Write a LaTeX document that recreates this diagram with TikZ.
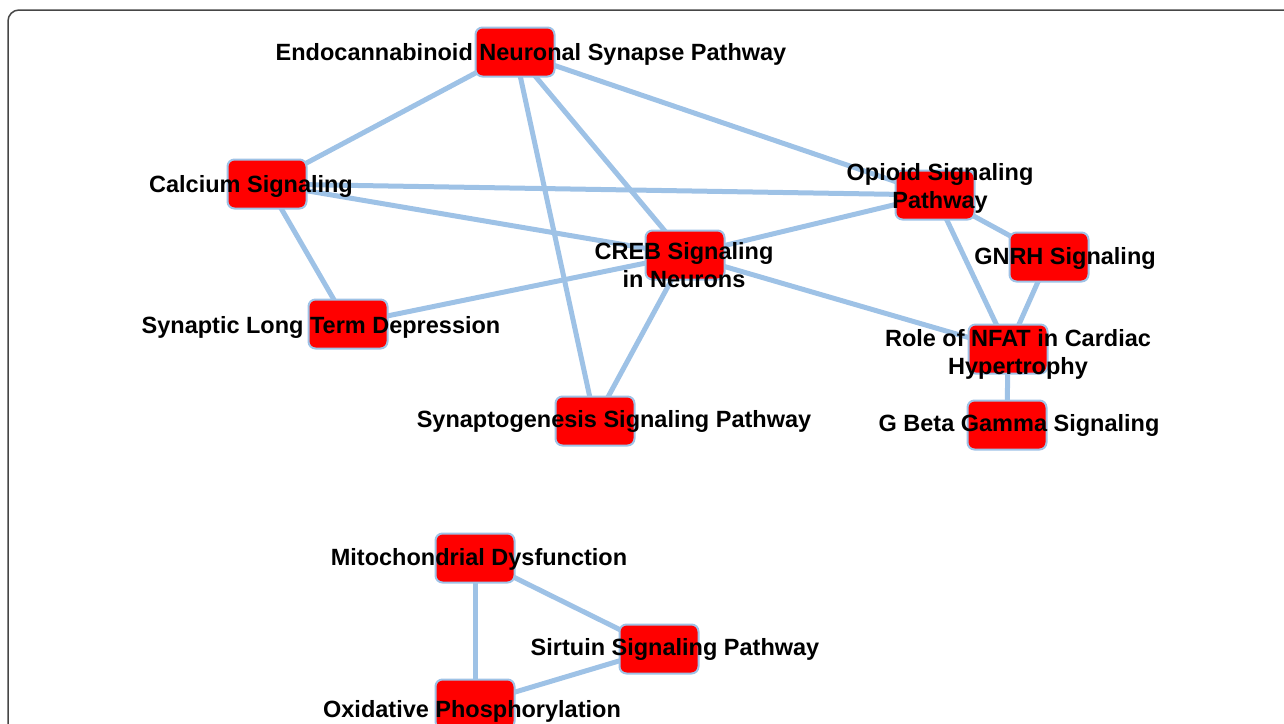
\documentclass[tikz,border=0pt]{standalone}
\usepackage{fontspec}
\setmainfont{Liberation Sans}
\usepackage{tikz}
\usetikzlibrary{positioning,calc,backgrounds}
\definecolor{edgeblue}{RGB}{158,194,230}
\definecolor{framegray}{RGB}{70,70,70}

\begin{document}
\begin{tikzpicture}[x=1pt,y=-1pt,
    pathbox/.style={draw=edgeblue,line width=2pt,fill=red,rounded corners=7pt,minimum width=79pt,minimum height=49pt,inner sep=0pt},
    pathtext/.style={font=\bfseries\fontsize{23.5}{28}\selectfont,align=center,inner sep=0pt,text=black,yshift=-2.5pt},
    link/.style={draw=edgeblue,line width=5pt}]
    \useasboundingbox (0,0) rectangle (1284,723);
    % outer frame, open to the right and below
    \begin{scope}
      \clip (0,0) rectangle (1284,723);
      \draw[framegray,line width=1.5pt,rounded corners=11pt] (8,10) rectangle (1310,760);
    \end{scope}

    % pathway boxes
    \node[pathbox] (endo) at (515,52) {};
    \node[pathbox] (calc) at (267,184) {};
    \node[pathbox] (opio) at (935,195) {};
    \node[pathbox] (creb) at (685,255) {};
    \node[pathbox] (gnrh) at (1049,257) {};
    \node[pathbox] (sltd) at (348,324) {};
    \node[pathbox] (nfat) at (1008,349) {};
    \node[pathbox] (syng) at (595,421) {};
    \node[pathbox] (gbg) at (1007,425) {};
    \node[pathbox] (mito) at (475,558) {};
    \node[pathbox] (sirt) at (659,649) {};
    \node[pathbox] (oxph) at (475,704) {};

    % links between pathways, behind the boxes
    \begin{scope}[on background layer]
    \foreach \a/\b in {endo/calc,endo/opio,endo/creb,endo/syng,calc/opio,calc/creb,calc/sltd,
                       creb/sltd,creb/opio,creb/syng,creb/nfat,opio/gnrh,opio/nfat,gnrh/nfat,nfat/gbg,
                       mito/sirt,mito/oxph,sirt/oxph}
      \draw[link] (\a.center) -- (\b.center);
    \end{scope}

    % labels
    \node[pathtext] (endo-t) at (531,52) {Endocannabinoid Neuronal Synapse Pathway};
    \node[pathtext] (calc-t) at (251,184) {Calcium Signaling};
    \node[pathtext] (opio-t) at (940,186) {Opioid Signaling\\Pathway};
    \node[pathtext] (creb-t) at (684,263) {CREB Signaling\\in Neurons};
    \node[pathtext] (gnrh-t) at (1065,256) {GNRH Signaling};
    \node[pathtext] (sltd-t) at (321,325) {Synaptic Long Term Depression};
    \node[pathtext] (nfat-t) at (1018,352) {Role of NFAT in Cardiac\\Hypertrophy};
    \node[pathtext] (syng-t) at (614,419) {Synaptogenesis Signaling Pathway};
    \node[pathtext] (gbg-t) at (1019,423) {G Beta Gamma Signaling};
    \node[pathtext] (mito-t) at (479,557) {Mitochondrial Dysfunction};
    \node[pathtext] (sirt-t) at (675,647) {Sirtuin Signaling Pathway};
    \node[pathtext] (oxph-t) at (472,709) {Oxidative Phosphorylation};
\end{tikzpicture}
\end{document}
